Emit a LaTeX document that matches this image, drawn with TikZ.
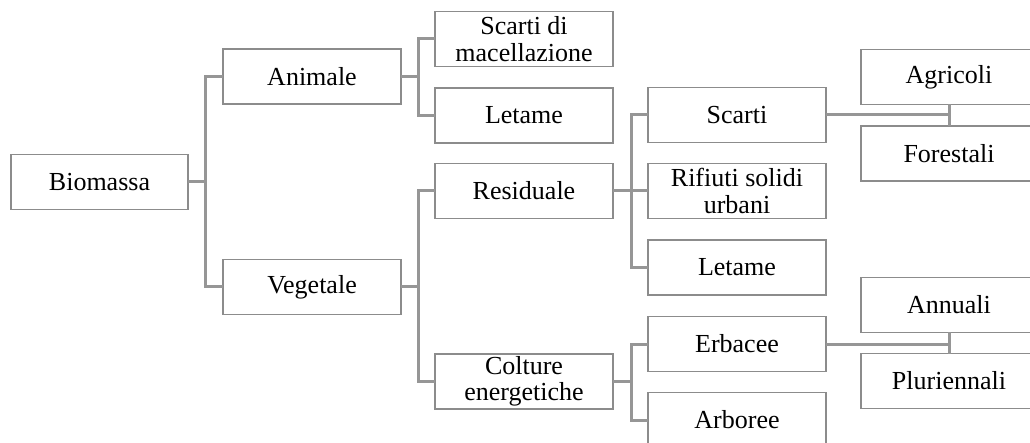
\documentclass[tikz,border=0pt]{standalone}
\usepackage{fontspec}
\setmainfont{Liberation Serif}
\definecolor{linegray}{RGB}{150,150,150}
\definecolor{boxgray}{RGB}{140,140,140}
\tikzset{
  box/.style={draw=boxgray, line width=1.5pt, fill=white, minimum width=178pt, minimum height=55pt,
    inner sep=0pt, outer sep=0pt, align=center, font=\fontsize{26}{26.5}\selectfont},
  link/.style={draw=linegray, line width=3pt}
}
\begin{document}
\begin{tikzpicture}[x=1pt,y=-1pt]
\useasboundingbox (0,0) rectangle (1030,443);
\clip (0,0) rectangle (1030,443);
% level 1
\node[box, minimum width=177pt] (bio) at (99.5,182) {Biomassa};
% level 2
\node[box] (ani) at (312,76.5) {Animale};
\node[box] (veg) at (312,287) {Vegetale};
% level 3
\node[box] (mac) at (524,39) {Scarti di\\macellazione};
\node[box] (let1) at (524,115.5) {Letame};
\node[box] (res) at (524,191) {Residuale};
\node[box] (col) at (524,381.5) {Colture\\energetiche};
% level 4
\node[box] (sca) at (737,115) {Scarti};
\node[box] (rif) at (737,191) {Rifiuti solidi\\urbani};
\node[box] (let2) at (737,267.5) {Letame};
\node[box] (erb) at (737,344) {Erbacee};
\node[box] (arb) at (737,420) {Arboree};
% level 5
\node[box, minimum width=176pt] (agr) at (949,77) {Agricoli};
\node[box, minimum width=176pt] (for) at (949,153.5) {Forestali};
\node[box, minimum width=176pt] (ann) at (949,305) {Annuali};
\node[box, minimum width=176pt] (plu) at (949,381) {Pluriennali};
% connectors
\draw[link] (bio.east) -- ++(17,0) |- (ani.west);
\draw[link] (bio.east) -- ++(17,0) |- (veg.west);
\draw[link] (ani.east) -- ++(17,0) |- (mac.west);
\draw[link] (ani.east) -- ++(17,0) |- (let1.west);
\draw[link] (veg.east) -- ++(17,0) |- (res.west);
\draw[link] (veg.east) -- ++(17,0) |- (col.west);
\draw[link] (res.east) -- ++(18,0) |- (sca.west);
\draw[link] (res.east) -- ++(18,0) |- (rif.west);
\draw[link] (res.east) -- ++(18,0) |- (let2.west);
\draw[link] (col.east) -- ++(18,0) |- (erb.west);
\draw[link] (col.east) -- ++(18,0) |- (arb.west);
\draw[link] (sca.east) -- (sca.east -| agr.south);
\draw[link] (agr.south) -- (for.north);
\draw[link] (erb.east) -- (erb.east -| ann.south);
\draw[link] (ann.south) -- (plu.north);
\end{tikzpicture}
\end{document}
